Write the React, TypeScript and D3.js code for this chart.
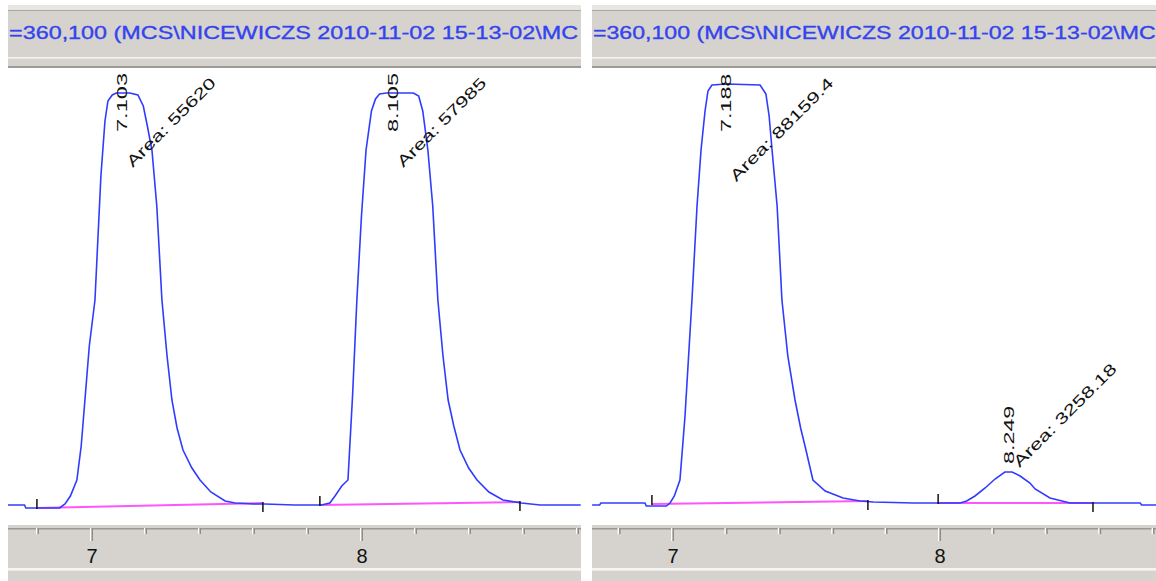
import React from "react";
import * as d3 from "d3";

// ---------- data ----------
const headerText = "=360,100 (MCS\\NICEWICZS 2010-11-02 15-13-02\\MC";
const axisTicks = [6.8, 7.0, 7.2, 7.4, 7.6, 7.8, 8.0, 8.2, 8.4, 8.6, 8.8];
const axisLabels = [7, 8];

// left chromatogram (time in min, signal in arbitrary units)
const leftTime = [
  6.689, 6.75, 6.755, 6.88, 6.9, 6.92, 6.944, 6.96, 6.975, 6.99, 7.011, 7.033, 7.048, 7.059, 7.075, 7.09, 7.14,
  7.17, 7.19, 7.205, 7.222, 7.24, 7.259, 7.278, 7.296, 7.315, 7.337, 7.37, 7.4, 7.44, 7.493, 7.53, 7.6, 7.64,
  7.75, 7.85, 7.881, 7.9, 7.925, 7.948, 7.965, 7.981, 7.998, 8.015, 8.035, 8.05, 8.065, 8.09, 8.19, 8.21, 8.225,
  8.244, 8.262, 8.281, 8.3, 8.319, 8.34, 8.363, 8.395, 8.426, 8.47, 8.522, 8.59, 8.66, 8.81,
];
const leftSignal = [
  1, 1, -2, -2, 2, 10, 26, 60, 110, 160, 206, 330, 385, 405, 411, 413, 413,
  411, 400, 380, 356, 300, 206, 150, 106, 78, 56, 38, 26, 14, 5, 3, 2, 2,
  1, 1, 3, 10, 20, 26, 110, 206, 290, 356, 395, 407, 412, 413, 413, 410, 395,
  356, 300, 206, 150, 106, 80, 56, 38, 26, 14, 6, 3, 1, 1,
];

// right chromatogram
const rightTime = [
  6.697, 6.725, 6.73, 6.895, 6.9, 6.975, 6.989, 7.005, 7.026, 7.045, 7.071, 7.09, 7.105, 7.12, 7.131, 7.146, 7.2,
  7.326, 7.348, 7.36, 7.371, 7.39, 7.408, 7.43, 7.457, 7.478, 7.498, 7.524, 7.57, 7.637, 7.7, 7.75, 7.9, 8.075,
  8.1, 8.131, 8.169, 8.206, 8.243, 8.27, 8.3, 8.337, 8.356, 8.412, 8.487, 8.573, 8.75, 8.755, 8.809,
];
const rightSignal = [
  1, 1, 3, 3, 0, 0, 3, 10, 26, 90, 206, 300, 356, 395, 415, 421, 422,
  421, 412, 390, 356, 300, 206, 150, 106, 78, 56, 26, 15, 8, 5, 4, 3, 3,
  5, 10, 18, 27, 34, 34, 30, 23, 17, 8, 3, 3, 3, 1, 1,
];

// integration results
const leftPeakRT = [7.103, 8.105];
const leftPeakArea = ["55620", "57985"];
const leftBaseStart = [6.796, 7.844];
const leftBaseEnd = [7.633, 8.585];
const leftBaseStartLevel = [-2, 1];
const leftBaseEndLevel = [3, 4];

const rightPeakRT = [7.188, 8.249];
const rightPeakArea = ["88159.4", "3258.18"];
const rightBaseStart = [6.921, 7.993];
const rightBaseEnd = [7.73, 8.573];
const rightBaseStartLevel = [2, 3];
const rightBaseEndLevel = [5, 3];

// ---------- layout ----------
const W = 1156;
const H = 581;
const PLOT_TOP = 69;
const PLOT_BOTTOM = 525;
const BLUE = "#2f3cff";
const PINK = "#ff55ff";
const GREY = "#d6d3ce";
const FONT = "'Liberation Sans', Arial, sans-serif";

type PanelProps = {
  id: string;
  left: number;
  right: number;
  px7: number;
  px8: number;
  time: number[];
  signal: number[];
  rts: number[];
  areas: string[];
  bStart: number[];
  bEnd: number[];
  bStartLv: number[];
  bEndLv: number[];
};

function Panel(p: PanelProps) {
  const x = d3.scaleLinear().domain([7, 8]).range([p.px7, p.px8]);
  const y = d3.scaleLinear().domain([0, 440]).range([506, 66]);
  const k = (p.px8 - p.px7) / 270;
  const pts = p.time.map((t, i) => [t, p.signal[i]] as [number, number]);
  const line = d3
    .line<[number, number]>()
    .x((d) => x(d[0]))
    .y((d) => y(d[1]));
  const w = p.right - p.left;

  return (
    <g>
      <defs>
        <clipPath id={"clip-" + p.id}>
          <rect x={p.left} y={PLOT_TOP} width={w} height={PLOT_BOTTOM - PLOT_TOP} />
        </clipPath>
        <clipPath id={"cliph-" + p.id}>
          <rect x={p.left} y={0} width={w} height={70} />
        </clipPath>
      </defs>
      {/* header */}
      <rect x={p.left} y={5} width={w} height={5} fill="#e8e6e2" />
      <rect x={p.left} y={10} width={w} height={1.5} fill="#a9a7a3" />
      <rect x={p.left} y={11.5} width={w} height={46} fill={GREY} />
      <rect x={p.left} y={57} width={w} height={1.5} fill="#f4f3f0" />
      <rect x={p.left} y={58.5} width={w} height={8} fill={GREY} />
      <rect x={p.left} y={66} width={w} height={2} fill="#9d9b97" />
      <g clipPath={`url(#cliph-${p.id})`}>
        <text
          x={p.left + 1}
          y={38.5}
          fill="#3344ee"
          stroke="#3344ee"
          strokeWidth={0.35}
          fontFamily={FONT}
          fontSize={18.5}
          textLength={569 * k}
          lengthAdjust="spacingAndGlyphs"
        >
          {headerText}
        </text>
      </g>

      {/* plot */}
      <g clipPath={`url(#clip-${p.id})`}>
        {p.bStart.map((s, i) => (
          <g key={"b" + i}>
            <line
              x1={x(s)}
              x2={x(p.bEnd[i])}
              y1={y(p.bStartLv[i])}
              y2={y(p.bEndLv[i])}
              stroke={PINK}
              strokeWidth={2}
            />
          </g>
        ))}
        <path d={line(pts) || ""} fill="none" stroke={BLUE} strokeWidth={1.6} />
        {p.bStart.map((s, i) => (
          <g key={"m" + i}>
            <line x1={x(s)} x2={x(s)} y1={y(p.bStartLv[i]) + 1} y2={y(p.bStartLv[i]) - 9} stroke="#111" strokeWidth={1.5} />
            <line x1={x(p.bEnd[i])} x2={x(p.bEnd[i])} y1={y(p.bEndLv[i]) - 1} y2={y(p.bEndLv[i]) + 9} stroke="#111" strokeWidth={1.5} />
          </g>
        ))}
        {p.rts.map((rt, i) => {
          let apex = 0;
          p.time.forEach((t, j) => {
            if (Math.abs(t - rt) < 0.15) apex = Math.max(apex, p.signal[j]);
          });
          const apexPy = y(apex);
          const rx = x(rt) + 2;
          const bottom = Math.max(apexPy - 8, PLOT_TOP + 63);
          const label = "Area: " + p.areas[i];
          const len = label.length * 10.8 * k;
          const ay = Math.max(apexPy - 4, PLOT_TOP + 15 + len * 0.707);
          const ax = x(rt) + 13;
          return (
            <g key={"l" + i} fontFamily={FONT} fontSize={15.5} fill="#111">
              <text
                transform={`translate(${rx},${bottom}) rotate(-90)`}
                dominantBaseline="central"
                textLength={59 * k}
                lengthAdjust="spacingAndGlyphs"
              >
                {rt.toFixed(3)}
              </text>
              <text
                transform={`translate(${ax},${ay}) rotate(-45)`}
                textLength={len}
                lengthAdjust="spacingAndGlyphs"
              >
                {label}
              </text>
            </g>
          );
        })}
      </g>

      {/* bottom axis band */}
      <rect x={p.left} y={525} width={w} height={43} fill={GREY} />
      <rect x={p.left} y={568} width={w} height={2.5} fill="#f6f5f3" />
      <rect x={p.left} y={570.5} width={w} height={11} fill={GREY} />
      <rect x={p.left} y={528} width={w} height={1.5} fill="#9a9894" />
      {axisTicks.map((t) => {
        const major = axisLabels.some((v) => Math.abs(v - t) < 1e-6);
        const tx = x(t);
        return (
          <g key={"t" + t}>
            <rect x={tx - 2} y={528} width={1.5} height={major ? 13 : 6} fill="#ffffff" />
            <rect x={tx - 0.5} y={528} width={1.5} height={major ? 13 : 6} fill="#8d8b87" />
          </g>
        );
      })}
      {axisLabels.map((v) => (
        <text
          key={"a" + v}
          x={x(v)}
          y={563}
          textAnchor="middle"
          fontFamily={FONT}
          fontSize={20}
          fill="#111"
        >
          {v}
        </text>
      ))}
    </g>
  );
}

export default function App() {
  return (
    <svg
      width={W}
      height={H}
      viewBox={`0 0 ${W} ${H}`}
      style={{ position: "absolute", left: 0, top: 0, background: "#fff" }}
    >
      <rect x={0} y={0} width={W} height={H} fill="#fff" />
      <Panel
        id="L"
        left={8}
        right={581}
        px7={92}
        px8={362}
        time={leftTime}
        signal={leftSignal}
        rts={leftPeakRT}
        areas={leftPeakArea}
        bStart={leftBaseStart}
        bEnd={leftBaseEnd}
        bStartLv={leftBaseStartLevel}
        bEndLv={leftBaseEndLevel}
      />
      <Panel
        id="R"
        left={592}
        right={1156}
        px7={673}
        px8={940}
        time={rightTime}
        signal={rightSignal}
        rts={rightPeakRT}
        areas={rightPeakArea}
        bStart={rightBaseStart}
        bEnd={rightBaseEnd}
        bStartLv={rightBaseStartLevel}
        bEndLv={rightBaseEndLevel}
      />
    </svg>
  );
}
